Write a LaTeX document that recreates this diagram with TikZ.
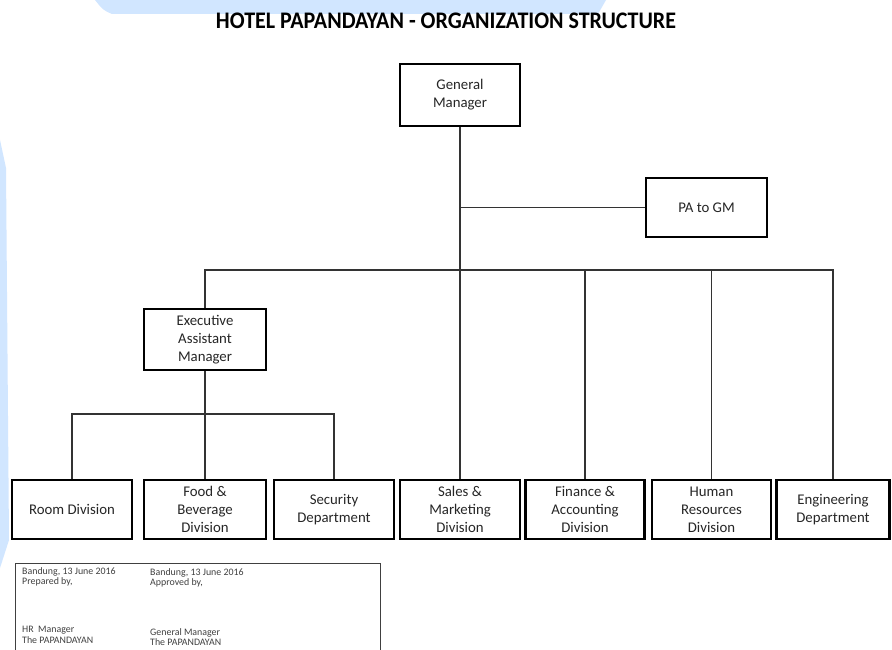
\documentclass[tikz,border=0pt]{standalone}
\usepackage{fontspec}
\setmainfont{Carlito}
\begin{document}
\begin{tikzpicture}[x=1pt,y=-1pt,
  box/.style={draw=black,line width=2.2pt,fill=white,align=center,inner sep=0pt,
    font=\fontsize{14.8}{18}\selectfont,text=black!85},
  conn/.style={draw=black!80,line width=1.1pt},
  foot/.style={anchor=north west,align=left,inner sep=0pt,
    font=\fontsize{9.9}{10.5}\selectfont,text=black!75}]
\useasboundingbox (0,0) rectangle (892,650);
\fill[white] (0,0) rectangle (892,650);
% watermark traces
\fill[blue!55!cyan!18] (95,0) -- (606,0) -- (598,14) -- (112,14) .. controls (103,10) .. (95,0) -- cycle;
\fill[blue!55!cyan!18] (0,140) -- (6,168) -- (9,540) -- (0,568) -- cycle;
% title
\node (title) at (446,21) {\scalebox{1.0}[1.08]{\fontsize{22}{24}\selectfont\bfseries HOTEL PAPANDAYAN - ORGANIZATION STRUCTURE}};
% boxes
\node[box,minimum width=120pt,minimum height=62pt] (gm) at (460,95) {General\\Manager};
\node[box,minimum width=121pt,minimum height=59pt] (pa) at (706.5,207.5) {PA to GM};
\node[box,minimum width=122pt,minimum height=61pt] (eam) at (205,339.5) {Executive\\Assistant\\Manager};
\node[box,minimum width=120pt,minimum height=59pt] (room) at (72,509.5) {Room Division};
\node[box,minimum width=122pt,minimum height=59pt] (food) at (205,509.5) {Food \&\\Beverage\\Division};
\node[box,minimum width=120pt,minimum height=59pt] (sec) at (334,509.5) {Security\\Department};
\node[box,minimum width=120pt,minimum height=59pt] (sales) at (460,509.5) {Sales \&\\Marketing\\Division};
\node[box,minimum width=119pt,minimum height=59pt] (fin) at (585,509.5) {Finance \&\\Accounting\\Division};
\node[box,minimum width=119pt,minimum height=59pt] (hr) at (711.5,509.5) {Human\\Resources\\Division};
\node[box,minimum width=113pt,minimum height=59pt] (eng) at (833,509.5) {Engineering\\Department};
% connectors
\coordinate (bus) at (460,270);
\coordinate (ebus) at (205,414);
\draw[conn] (gm.south) -- (sales.north);
\draw[conn] (gm.south |- pa.west) -- (pa.west);
\draw[conn] (eam.north) |- (bus) -| (eng.north);
\draw[conn] (fin.north) -- (fin.north |- bus);
\draw[conn] (hr.north) -- (hr.north |- bus);
\draw[conn] (eam.south) -- (food.north);
\draw[conn] (room.north) |- (ebus) -| (sec.north);
% footer
\draw[black!75,line width=0.9pt] (15,663) -- (15,563) -- (380,563) -- (380,663);
\node[foot] (p1) at (22,567) {Bandung, 13 June 2016\\Prepared by,};
\node[foot] (p2) at (150,568) {Bandung, 13 June 2016\\Approved by,};
\node[foot] (p3) at (22,626) {HR\ \ Manager\\The PAPANDAYAN};
\node[foot] (p4) at (150,628) {General Manager\\The PAPANDAYAN};
\end{tikzpicture}
\end{document}
